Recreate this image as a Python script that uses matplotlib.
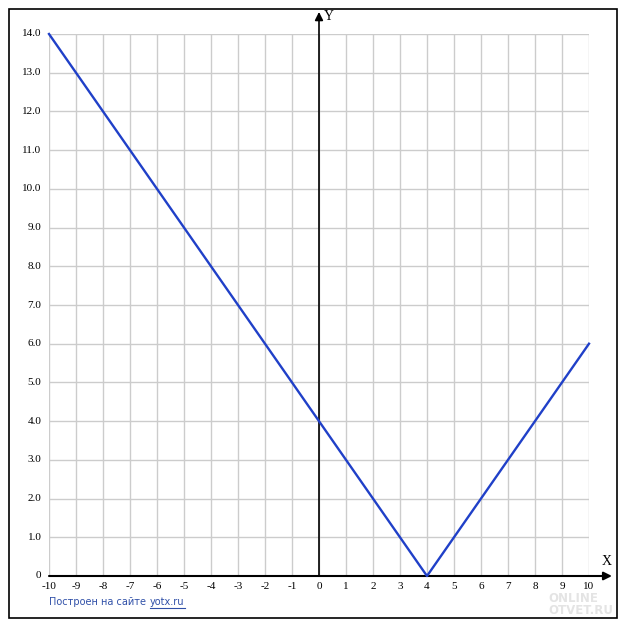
import numpy as np
import matplotlib.pyplot as plt
from matplotlib.patches import Rectangle

# data: y = |x - 4| on [-10, 10]
xs = [-10, 4, 10]
ys = [14, 0, 6]
xticks = list(range(-10, 11))
yticks = list(range(0, 15))

W, H = 627, 630
fig = plt.figure(figsize=(W / 100, H / 100), dpi=100)

# outer frame
fig.patches.append(Rectangle((9 / W, 1 - 618 / H), 608 / W, 609 / H,
                             transform=fig.transFigure, fill=False,
                             edgecolor='black', linewidth=1.2))

ax = fig.add_axes([49 / W, 1 - 576 / H, 540 / W, 542 / H])
ax.set_xlim(-10, 10)
ax.set_ylim(0, 14)
for s in ax.spines.values():
    s.set_visible(False)
ax.set_xticks(xticks)
ax.set_yticks(yticks)
ax.grid(True, color='#cccccc', linewidth=1)
ax.tick_params(length=0, labelbottom=False, labelleft=False)

tfont = dict(family='Liberation Serif', fontsize=8, color='black')
for t in xticks:
    ax.text(t, -0.28, str(t), ha='center', va='center', **tfont)
for t in yticks:
    lab = '0' if t == 0 else '%.1f' % t
    ax.text(-10.28, t, lab, ha='right', va='center', **tfont)

# axes with arrows
ax.annotate('', xy=(0, 14.57), xytext=(0, 0), annotation_clip=False,
            arrowprops=dict(arrowstyle='-|>', color='black', lw=1.2,
                            mutation_scale=12, shrinkA=0, shrinkB=0))
ax.annotate('', xy=(10.85, 0), xytext=(-10, 0), annotation_clip=False,
            arrowprops=dict(arrowstyle='-|>', color='black', lw=1.5,
                            mutation_scale=12, shrinkA=0, shrinkB=0))
ax.text(0.38, 14.45, 'Y', ha='center', va='center', family='Liberation Serif', fontsize=10)
ax.text(10.65, 0.37, 'X', ha='center', va='center', family='Liberation Serif', fontsize=10)

ax.plot(xs, ys, color='#2040c8', linewidth=1.7, clip_on=False, zorder=5)

# footer
blue = '#3050a8'
t1 = fig.text(49 / W, 1 - 602 / H, 'Построен на сайте', color=blue, fontsize=7,
              family='DejaVu Sans', va='center', ha='left')
r = fig.canvas.get_renderer()
bb = t1.get_window_extent(r)
x2 = bb.x1 + 4
t2 = fig.text(x2 / W, 1 - 602 / H, 'yotx.ru', color=blue, fontsize=7,
              family='DejaVu Sans', va='center', ha='left')
bb2 = t2.get_window_extent(r)
fig.add_artist(plt.Line2D([bb2.x0 / W, bb2.x1 / W], [1 - 608 / H, 1 - 608 / H],
                          transform=fig.transFigure, color=blue, lw=0.8))

# faint watermark
fig.text(548 / W, 1 - 598 / H, 'ONLINE', color='#e4e4e4', fontsize=8.5,
         family='DejaVu Sans', weight='bold', va='center', ha='left', zorder=0)
fig.text(548 / W, 1 - 610 / H, 'OTVET.RU', color='#e4e4e4', fontsize=8.5,
         family='DejaVu Sans', weight='bold', va='center', ha='left', zorder=0)

fig.savefig('out.png', dpi=100)
